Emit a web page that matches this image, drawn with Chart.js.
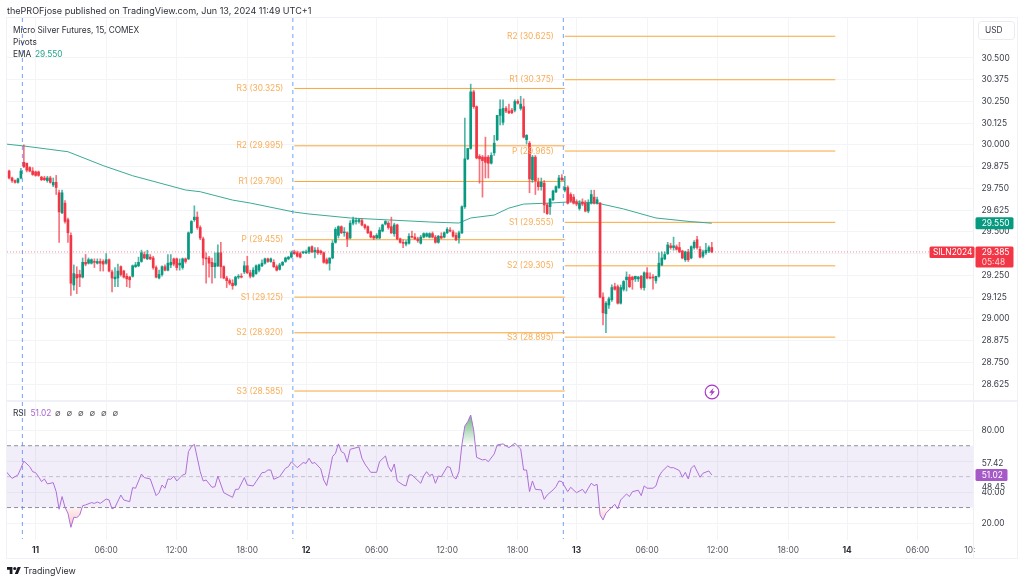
<!DOCTYPE html>
<html>
<head>
<meta charset="utf-8">
<script src="https://cdn.jsdelivr.net/npm/chart.js@4"></script>
<style>
  html, body { margin: 0; background: #fff; }
  #wrap { position: relative; width: 1024px; height: 583px; overflow: hidden; font-family: Inter, sans-serif; color: #2e303a; }
  canvas { position: absolute; left: 0; top: 0; }
  .t { position: absolute; font-size: 8.3px; line-height: 12px; white-space: nowrap; }
</style>
</head>
<body>
<div id="wrap">
  <canvas id="myChart" width="1024" height="583"></canvas>
  <div class="t" style="left:7px;top:5px;font-size:9.05px">thePROFjose published on TradingView.com, Jun 13, 2024 11:49 UTC+1</div>
  <div class="t" style="left:13px;top:24px">Micro Silver Futures, 15, COMEX</div>
  <div class="t" style="left:13px;top:36px">Pivots</div>
  <div class="t" style="left:13px;top:48px">EMA</div>
  <div class="t" style="left:35px;top:48px;color:#22a58a">29.550</div>
  <div class="t" style="left:13px;top:407px">RSI</div>
  <div class="t" style="left:30.5px;top:407px;color:#ab62d0">51.02</div>
  <div class="t" style="left:55px;top:407px;word-spacing:3.5px;color:#555">∅ ∅ ∅ ∅ ∅ ∅</div>
  <svg style="position:absolute;left:7px;top:567px" width="14" height="7" viewBox="0 4 36 18">
    <path fill="#1a1c24" d="M14 22H7V11H0V4h14v18zM28 22h-8l7.5-18h8L28 22z"/><circle fill="#1a1c24" cx="20" cy="8" r="4"/>
  </svg>
  <div class="t" style="left:23.5px;top:565px;font-size:8.9px;color:#2a2c34">TradingView</div>
  <svg style="position:absolute;left:704px;top:384px" width="16" height="16" viewBox="0 0 16 16">
    <circle cx="8" cy="8" r="6.8" fill="#fff" stroke="#a838c8" stroke-width="1.2"/>
    <path fill="#a838c8" d="M9.6 3.8 5.2 8.8h2.5L6.5 12.2l4.4-5H8.4z"/>
  </svg>
</div>
<script>
// 15 minute candles, index 9 is midnight of the 11th
const opens = [
  29.85,29.81,29.795,29.785,29.81,29.9,29.895,29.87,29.85,29.845,29.845,29.815,29.81,29.795,29.81,29.77,29.785,29.725,29.61,29.665,
  29.57,29.48,29.195,29.255,29.255,29.24,29.325,29.32,29.32,29.33,29.32,29.33,29.33,29.32,29.34,29.27,29.23,29.235,29.3,29.275,
  29.245,29.24,29.245,29.3,29.305,29.33,29.37,29.345,29.355,29.35,29.295,29.235,29.255,29.3,29.28,29.31,29.345,29.345,29.31,29.295,
  29.345,29.345,29.495,29.57,29.585,29.525,29.46,29.35,29.35,29.325,29.3,29.305,29.38,29.3,29.235,29.22,29.205,29.195,29.24,29.245,
  29.27,29.305,29.265,29.245,29.26,29.28,29.305,29.32,29.345,29.33,29.325,29.3,29.285,29.31,29.33,29.345,29.355,29.385,29.38,29.375,
  29.38,29.38,29.385,29.415,29.385,29.395,29.39,29.38,29.34,29.32,29.35,29.44,29.48,29.53,29.495,29.495,29.465,29.55,29.56,29.56,
  29.565,29.54,29.53,29.5,29.475,29.465,29.465,29.505,29.545,29.55,29.53,29.49,29.54,29.46,29.44,29.43,29.435,29.475,29.47,29.46,
  29.435,29.47,29.475,29.47,29.49,29.47,29.44,29.475,29.47,29.495,29.51,29.5,29.48,29.465,29.495,29.645,29.92,29.98,30.305,30.22,
  29.935,29.93,29.93,29.93,29.895,29.955,30.03,30.17,30.13,30.21,30.195,30.2,30.2,30.25,30.21,30.22,30.03,30.01,29.8,29.93,
  29.785,29.76,29.78,29.655,29.645,29.685,29.73,29.755,29.81,29.74,29.755,29.715,29.7,29.67,29.635,29.67,29.665,29.62,29.665,29.7,
  29.665,29.665,29.125,29.03,29.08,29.11,29.185,29.185,29.09,29.17,29.225,29.24,29.24,29.23,29.23,29.245,29.18,29.265,29.24,29.24,
  29.22,29.245,29.31,29.345,29.375,29.42,29.41,29.415,29.41,29.39,29.34,29.385,29.35,29.41,29.455,29.4,29.36,29.38,29.39,29.41
]
const highs = [
  29.855,29.815,29.8,29.81,29.865,30.0,29.895,29.875,29.87,29.85,29.85,29.82,29.82,29.82,29.82,29.81,29.825,29.74,29.74,29.68,
  29.58,29.495,29.31,29.3,29.28,29.35,29.37,29.35,29.345,29.345,29.345,29.345,29.34,29.375,29.345,29.28,29.295,29.315,29.305,29.28,
  29.26,29.245,29.31,29.325,29.355,29.395,29.385,29.395,29.37,29.36,29.305,29.28,29.305,29.31,29.37,29.37,29.35,29.35,29.345,29.35,
  29.35,29.5,29.565,29.65,29.615,29.535,29.47,29.38,29.36,29.35,29.38,29.425,29.44,29.305,29.245,29.23,29.225,29.245,29.255,29.26,
  29.33,29.36,29.28,29.295,29.31,29.315,29.34,29.35,29.35,29.35,29.34,29.31,29.32,29.33,29.355,29.36,29.39,29.395,29.39,29.385,
  29.39,29.395,29.415,29.42,29.41,29.41,29.395,29.385,29.35,29.35,29.45,29.525,29.535,29.535,29.525,29.5,29.565,29.585,29.58,29.575,
  29.575,29.545,29.535,29.505,29.48,29.49,29.525,29.545,29.565,29.56,29.585,29.55,29.545,29.465,29.455,29.45,29.49,29.505,29.49,29.47,
  29.48,29.495,29.495,29.495,29.5,29.48,29.48,29.495,29.5,29.525,29.525,29.51,29.495,29.505,29.65,30.155,29.98,30.35,30.315,30.225,
  29.945,29.94,30.045,29.94,29.955,30.055,30.17,30.26,30.26,30.22,30.235,30.21,30.26,30.26,30.28,30.265,30.06,30.02,29.94,29.94,
  29.81,29.81,29.795,29.665,29.69,29.74,29.765,29.825,29.83,29.82,29.765,29.725,29.715,29.685,29.68,29.69,29.68,29.685,29.74,29.74,
  29.7,29.67,29.15,29.1,29.125,29.195,29.205,29.195,29.195,29.22,29.27,29.255,29.245,29.245,29.245,29.25,29.27,29.295,29.265,29.255,
  29.245,29.38,29.385,29.385,29.44,29.435,29.47,29.425,29.44,29.395,29.39,29.4,29.42,29.45,29.475,29.415,29.395,29.435,29.42,29.44
]
const lows = [
  29.805,29.785,29.78,29.78,29.805,29.87,29.845,29.845,29.825,29.82,29.82,29.795,29.795,29.785,29.78,29.76,29.715,29.44,29.605,29.55,
  29.44,29.135,29.165,29.145,29.185,29.235,29.305,29.315,29.315,29.295,29.315,29.275,29.275,29.315,29.27,29.155,29.185,29.185,29.245,29.235,
  29.185,29.18,29.24,29.295,29.3,29.325,29.345,29.34,29.34,29.285,29.235,29.23,29.245,29.275,29.275,29.295,29.305,29.28,29.28,29.285,
  29.32,29.34,29.49,29.56,29.515,29.455,29.31,29.205,29.24,29.205,29.235,29.3,29.235,29.23,29.18,29.195,29.17,29.19,29.23,29.235,
  29.26,29.26,29.235,29.24,29.255,29.27,29.3,29.315,29.325,29.325,29.295,29.275,29.28,29.305,29.325,29.34,29.35,29.37,29.355,29.35,
  29.375,29.375,29.375,29.38,29.35,29.37,29.37,29.32,29.315,29.28,29.345,29.435,29.465,29.49,29.475,29.415,29.46,29.54,29.545,29.55,
  29.535,29.515,29.49,29.465,29.455,29.46,29.46,29.5,29.54,29.515,29.49,29.475,29.455,29.435,29.41,29.42,29.43,29.465,29.455,29.44,
  29.43,29.465,29.47,29.465,29.465,29.435,29.435,29.46,29.465,29.49,29.5,29.47,29.45,29.435,29.49,29.635,29.915,29.975,30.21,29.92,
  29.78,29.7,29.81,29.81,29.89,29.94,30.025,30.115,30.115,30.185,30.18,30.18,30.19,30.235,30.2,30.04,30.005,29.725,29.785,29.715,
  29.74,29.74,29.61,29.6,29.6,29.68,29.725,29.75,29.795,29.73,29.66,29.67,29.66,29.65,29.625,29.65,29.615,29.61,29.66,29.66,
  29.66,29.12,28.965,28.92,29.06,29.1,29.165,29.085,29.085,29.16,29.16,29.18,29.17,29.215,29.215,29.17,29.165,29.23,29.23,29.17,
  29.205,29.24,29.305,29.34,29.37,29.4,29.395,29.395,29.38,29.345,29.33,29.33,29.345,29.4,29.4,29.35,29.35,29.37,29.38,29.38
]
const closes = [
  29.81,29.795,29.785,29.805,29.85,29.875,29.855,29.85,29.83,29.825,29.825,29.8,29.8,29.81,29.785,29.785,29.755,29.615,29.725,29.56,
  29.495,29.205,29.26,29.235,29.24,29.325,29.315,29.34,29.34,29.325,29.33,29.32,29.315,29.34,29.275,29.235,29.24,29.275,29.255,29.24,
  29.23,29.225,29.305,29.31,29.325,29.38,29.35,29.37,29.345,29.295,29.24,29.255,29.3,29.28,29.32,29.325,29.315,29.295,29.32,29.345,
  29.33,29.495,29.56,29.585,29.525,29.465,29.35,29.345,29.32,29.3,29.32,29.38,29.3,29.235,29.22,29.205,29.19,29.24,29.245,29.24,
  29.305,29.265,29.245,29.28,29.305,29.31,29.32,29.345,29.33,29.345,29.3,29.28,29.31,29.325,29.35,29.355,29.38,29.375,29.36,29.355,
  29.385,29.385,29.41,29.385,29.395,29.38,29.38,29.325,29.32,29.35,29.435,29.515,29.53,29.495,29.5,29.46,29.55,29.57,29.565,29.57,
  29.54,29.525,29.495,29.47,29.465,29.48,29.51,29.54,29.56,29.525,29.495,29.54,29.46,29.44,29.435,29.44,29.475,29.47,29.46,29.45,
  29.47,29.49,29.49,29.49,29.47,29.44,29.475,29.465,29.495,29.515,29.505,29.475,29.455,29.495,29.645,29.92,29.98,30.305,30.22,29.925,
  29.92,29.91,29.9,29.895,29.94,30.01,30.17,30.205,30.21,30.195,30.185,30.185,30.25,30.24,30.235,30.045,30.055,29.805,29.93,29.795,
  29.76,29.785,29.655,29.605,29.69,29.735,29.76,29.81,29.8,29.755,29.665,29.68,29.665,29.66,29.665,29.66,29.62,29.665,29.715,29.665,
  29.685,29.125,29.035,29.09,29.115,29.18,29.17,29.09,29.18,29.215,29.24,29.185,29.225,29.245,29.24,29.18,29.265,29.235,29.235,29.235,
  29.245,29.32,29.35,29.37,29.425,29.41,29.42,29.4,29.385,29.35,29.385,29.34,29.415,29.44,29.41,29.355,29.385,29.395,29.41,29.385
]

const emaBars = [-1,5,20,32,42,60,65,76,82,97,102,116,130,143,153,157,165,170,175,184,192,200,209,220,232,239]
const emaValues = [30.005,29.994,29.961,29.881,29.823,29.741,29.731,29.683,29.666,29.614,29.603,29.58,29.568,29.557,29.551,29.58,29.597,29.637,29.66,29.666,29.674,29.666,29.632,29.58,29.559,29.55]

const pivotNames12 = ['R3','R2','R1','P','S1','S2','S3']
const pivotValues12 = [30.325,29.995,29.79,29.455,29.125,28.92,28.585]
const pivotNames13 = ['R2','R1','P','S1','S2','S3']
const pivotValues13 = [30.625,30.375,29.965,29.555,29.305,28.895]

const rsiBars = [
  -1,1,3,4,5,7,8,9,10,11,12,13,15,16,17,18,19,20,21,22,23,24,25,26,28,29,30,31,33,34,35,36,38,39,41,42,43,45,46,48,50,51,52,53,54,55,56,57,59,60,
  61,62,63,65,66,67,69,70,71,73,76,77,78,80,81,83,84,86,87,88,89,90,92,94,95,96,98,100,101,102,103,104,106,107,108,109,110,111,112,113,114,115,116,119,120,121,123,125,126,128,
  129,130,131,132,134,135,136,137,140,141,142,143,144,145,146,147,149,150,151,152,153,154,155,156,157,158,159,161,162,163,165,166,168,170,172,174,175,176,177,178,179,181,182,183,185,186,187,188,190,191,
  193,195,196,197,198,199,200,201,202,203,205,206,207,208,210,211,212,214,215,216,217,219,220,221,222,224,225,226,228,229,230,231,232,233,235,236,238,239
]
const rsiValues = [
  53.2,48.9,51.1,55.4,60.1,56.5,53.2,52.6,50,46.8,48.5,45.3,46.1,40.3,28.9,37.1,30.2,26.3,17.2,23.7,23.5,25.2,31.2,31.7,33.2,32.7,33.6,32.7,35.5,34.9,29.1,30.2,38.1,34.9,33.8,42.9,42.5,51.7,49.4,48.5,37.7,39.6,44.6,42.5,48.5,48.3,50.4,47.2,51.1,51.7,
  66.2,69.4,70.9,53.2,47.2,47.8,43.1,43.5,50.4,39.6,36.6,41.8,41.8,49.4,44.6,44,46.8,52.6,52.8,54.3,54.3,48.3,50,55.4,56.5,59.6,55.8,59.1,58.6,61.9,58.6,59.1,55,47.8,44.2,53.2,63,65.1,71.2,66.2,65.1,59.3,67.7,69.2,61.9,58.2,52.8,52.8,59.7,63.4,
  56.5,53.2,58.2,47.2,44.6,44,51.1,51.1,45.7,50.4,53.2,50.7,51.5,45.7,50.4,50,56.5,56,50,48.5,53.2,70.5,82.8,85.6,89.9,80.2,62.5,60.8,61.2,59.7,64.7,70.5,71.2,68.8,71.6,67.9,54.3,54.3,40.3,47.2,41.8,41.4,35.3,38.1,41.4,43.5,47.2,46.8,40.3,43.1,
  39.6,41.8,39.2,42.5,45.7,44.2,45,25.2,22,26.3,30.2,32.1,29.1,34.9,38.8,37.1,40.3,41.2,37.7,44,42.5,42.5,44,50,53.2,56.9,55.8,55.8,53.9,49.6,52.8,48.5,55.4,57.3,49.6,52.2,53.7,51.02
]

const priceTicks = [30.5,30.375,30.25,30.125,30,29.875,29.75,29.625,29.5,29.375,29.25,29.125,29,28.875,28.75,28.625]
const rsiTicks = [80,60,40,20]
const rsiLevels = [70,50,30]
const timeBars = [9,33,57,81,101,125,149,173,193,217,241,265,285,309,326.8]
const timeLabels = ['11','06:00','12:00','18:00','12','06:00','12:00','18:00','13','06:00','12:00','18:00','14','06:00','10:']
const dayLabels = ['11','12','13','14']
const sessionBreaks = [4.5,96.5,188.5]
const pivotSpan12 = [97,189]
const pivotSpan13 = [189,281]

const lastPrice = 29.385
const lastEma = 29.55
const lastRsi = 51.02
const rsiSideLabels = ['57.42','48.45']

const UP = '#089981'
const DOWN = '#f23645'
const ORANGE = '#f8a63a'
const PURPLE = '#ae6fd8'
const GRID = '#f3f4f7'
const FRAME = '#eff1f6'
const FONT = 'Inter, sans-serif'
const TICK_SIZE = 8.4
const xMin = -0.73
const xMax = 327.85

const canvas = document.getElementById('myChart')
const ctx = canvas.getContext('2d')

const greenFade = ctx.createLinearGradient(0, 415, 0, 446)
greenFade.addColorStop(0, 'rgba(56,160,80,0.75)')
greenFade.addColorStop(1, 'rgba(56,160,80,0)')
const redFade = ctx.createLinearGradient(0, 507, 0, 527)
redFade.addColorStop(0, 'rgba(242,54,69,0.05)')
redFade.addColorStop(1, 'rgba(242,54,69,0.3)')

const candleColor = (c) => (closes[c.dataIndex] >= opens[c.dataIndex] ? UP : DOWN)
const wickColor = (c) => (closes[c.dataIndex] >= opens[c.dataIndex] ? 'rgba(8,153,129,0.7)' : 'rgba(242,54,69,0.7)')

function hLine(from, to, value, yAxisID, color, order, extra) {
  return Object.assign({
    type: 'line',
    data: [{ x: from, y: value }, { x: to, y: value }],
    yAxisID,
    borderColor: color,
    borderWidth: 1,
    pointRadius: 0,
    order,
  }, extra)
}

const datasets = [
  {
    type: 'bar',
    data: opens.map((o, i) => ({ x: i, y: [o, closes[i]] })),
    yAxisID: 'y',
    backgroundColor: candleColor,
    barThickness: 2,
    grouped: false,
    order: 0,
  },
  {
    type: 'bar',
    data: lows.map((l, i) => ({ x: i, y: [l, highs[i]] })),
    yAxisID: 'y',
    backgroundColor: wickColor,
    barThickness: 1,
    grouped: false,
    order: 1,
  },
  {
    type: 'line',
    data: emaBars.map((b, i) => ({ x: b, y: emaValues[i] })),
    yAxisID: 'y',
    borderColor: '#3aaa94',
    borderWidth: 1,
    pointRadius: 0,
    order: 2,
  },
  hLine(xMin, xMax, lastPrice, 'y', 'rgba(242,54,69,0.55)', 5, { borderDash: [1, 2] }),
]

pivotValues12.forEach((v) => datasets.push(hLine(pivotSpan12[0], pivotSpan12[1], v, 'y', ORANGE, 4)))
pivotValues13.forEach((v) => datasets.push(hLine(pivotSpan13[0], pivotSpan13[1], v, 'y', ORANGE, 4)))

// RSI pane
datasets.push({
  type: 'line',
  data: rsiBars.map((b, i) => ({ x: b, y: rsiValues[i] })),
  yAxisID: 'yRsi',
  borderColor: PURPLE,
  borderWidth: 1,
  pointRadius: 0,
  fill: { target: { value: rsiLevels[0] }, above: greenFade, below: 'transparent' },
  order: 6,
})
datasets.push({
  type: 'line',
  data: rsiBars.map((b, i) => ({ x: b, y: rsiValues[i] })),
  yAxisID: 'yRsi',
  borderWidth: 0,
  pointRadius: 0,
  fill: { target: { value: rsiLevels[2] }, above: 'transparent', below: redFade },
  order: 7,
})
datasets.push(hLine(xMin, xMax, rsiLevels[0], 'yRsi', '#8f919b', 8, { borderDash: [4, 3], fill: '+1', backgroundColor: 'rgba(126,87,194,0.1)' }))
datasets.push(hLine(xMin, xMax, rsiLevels[2], 'yRsi', '#8f919b', 8, { borderDash: [4, 3] }))
datasets.push(hLine(xMin, xMax, rsiLevels[1], 'yRsi', 'rgba(120,123,134,0.4)', 8, { borderDash: [4, 3] }))

function tag(c, x, y, w, h, color) {
  c.fillStyle = color
  c.beginPath()
  c.roundRect(x, y, w, h, 1.5)
  c.fill()
}

// frame, session lines, pivot names and the coloured axis tags
const overlay = {
  id: 'overlay',
  beforeDatasetsDraw(chart) {
    const c = chart.ctx
    const area = chart.chartArea
    c.save()
    c.strokeStyle = 'rgba(80,140,245,0.8)'
    c.setLineDash([4, 4])
    c.lineWidth = 1
    sessionBreaks.forEach((b) => {
      const x = chart.scales.x.getPixelForValue(b)
      c.beginPath()
      c.moveTo(x, area.top)
      c.lineTo(x, area.bottom - 1)
      c.stroke()
    })
    c.restore()
  },
  afterDraw(chart) {
    const c = chart.ctx
    const y = chart.scales.y
    const r = chart.scales.yRsi
    const x = chart.scales.x
    c.save()
    c.fillStyle = FRAME
    c.fillRect(6, 17, 1012, 1)
    c.fillRect(6, 558, 1012, 1)
    c.fillRect(6, 17, 1, 542)
    c.fillRect(1017, 17, 1, 542)
    c.fillRect(6, 400, 1012, 2)
    c.fillRect(973, 17, 1, 542)

    c.textBaseline = 'middle'
    c.font = TICK_SIZE + 'px ' + FONT
    c.fillStyle = '#f9ad58'
    c.textAlign = 'right'
    pivotNames12.forEach((n, i) => {
      c.fillText(`${n} (${pivotValues12[i].toFixed(3)})`, x.getPixelForValue(pivotSpan12[0]) - 11, y.getPixelForValue(pivotValues12[i]))
    })
    pivotNames13.forEach((n, i) => {
      c.fillText(`${n} (${pivotValues13[i].toFixed(3)})`, x.getPixelForValue(pivotSpan13[0]) - 11, y.getPixelForValue(pivotValues13[i]))
    })

    // USD button
    c.strokeStyle = '#e9ebf0'
    c.beginPath()
    c.roundRect(978.5, 21.5, 36, 18, 3)
    c.stroke()
    c.fillStyle = '#3a3d48'
    c.textAlign = 'left'
    c.fillText('USD', 985, 30.5)

    // tags
    const ey = y.getPixelForValue(lastEma)
    tag(c, 975.5, ey - 6, 38, 12, UP)
    c.fillStyle = '#fff'
    c.fillText(lastEma.toFixed(3), 981.7, ey + 0.5)

    const py = y.getPixelForValue(lastPrice)
    tag(c, 929.5, py - 5.5, 45, 11.5, DOWN)
    tag(c, 975.5, py - 5.5, 38, 21, DOWN)
    c.fillStyle = '#fff'
    c.fillText('SILN2024', 933, py + 0.5)
    c.fillText(lastPrice.toFixed(3), 981.7, py + 0.5)
    c.fillStyle = '#ffd5d9'
    c.fillText('05:48', 981.7, py + 10.5)

    // side labels sit on top of the 60 and 40 ticks
    c.fillStyle = '#fff'
    c.fillRect(978, 454, 30, 14)
    c.fillRect(978, 483, 30, 7)
    c.fillStyle = '#3a3d48'
    c.fillText(rsiSideLabels[0], 981.7, 463.2)
    c.fillText(rsiSideLabels[1], 981.7, 487)

    const ry = r.getPixelForValue(lastRsi)
    tag(c, 975.5, ry - 6, 32, 12, '#a65ac8')
    c.fillStyle = '#fff'
    c.fillText(lastRsi.toFixed(2), 981.7, ry + 0.5)
    c.restore()
  },
}

const yBase = {
  position: 'right',
  stack: 'panes',
  afterFit: (s) => { s.width = 44 },
  grid: { color: GRID, drawTicks: false },
  border: { color: FRAME },
}

new Chart(ctx, {
  data: { datasets },
  plugins: [overlay],
  options: {
    responsive: false,
    animation: false,
    events: [],
    layout: { padding: { left: 7, top: 18, right: 7, bottom: 25 } },
    plugins: { legend: { display: false }, tooltip: { enabled: false } },
    scales: {
      x: {
        type: 'linear',
        offset: false,
        min: xMin,
        max: xMax,
        afterBuildTicks: (s) => { s.ticks = timeBars.map((v) => ({ value: v })) },
        afterFit: (s) => { s.height = 18 },
        grid: {
          offset: false,
          color: (c) => (c.tick && c.tick.value === timeBars[timeBars.length - 1] ? 'transparent' : GRID),
          drawTicks: false,
        },
        border: { display: false },
        ticks: {
          autoSkip: false,
          maxRotation: 0,
          padding: 5,
          color: (c) => (dayLabels.includes(timeLabels[c.index]) ? '#2a2c34' : '#55585f'),
          font: (c) => ({ family: FONT, size: TICK_SIZE, weight: dayLabels.includes(timeLabels[c.index]) ? 'bold' : 'normal' }),
          callback: (v) => timeLabels[timeBars.indexOf(v)],
        },
      },
      y: Object.assign({}, yBase, {
        type: 'linear',
        stackWeight: 382,
        min: 28.5334,
        max: 30.73,
        afterBuildTicks: (s) => { s.ticks = priceTicks.map((v) => ({ value: v })) },
        ticks: { padding: 8.5, color: '#3a3d48', font: { family: FONT, size: TICK_SIZE }, callback: (v) => v.toFixed(3) },
      }),
      yRsi: Object.assign({}, yBase, {
        type: 'linear',
        stackWeight: 140,
        min: 9,
        max: 99.6,
        afterBuildTicks: (s) => { s.ticks = rsiTicks.map((v) => ({ value: v })) },
        ticks: { padding: 8.5, color: '#3a3d48', font: { family: FONT, size: TICK_SIZE }, callback: (v) => v.toFixed(2) },
      }),
    },
  },
})
</script>
</body>
</html>
